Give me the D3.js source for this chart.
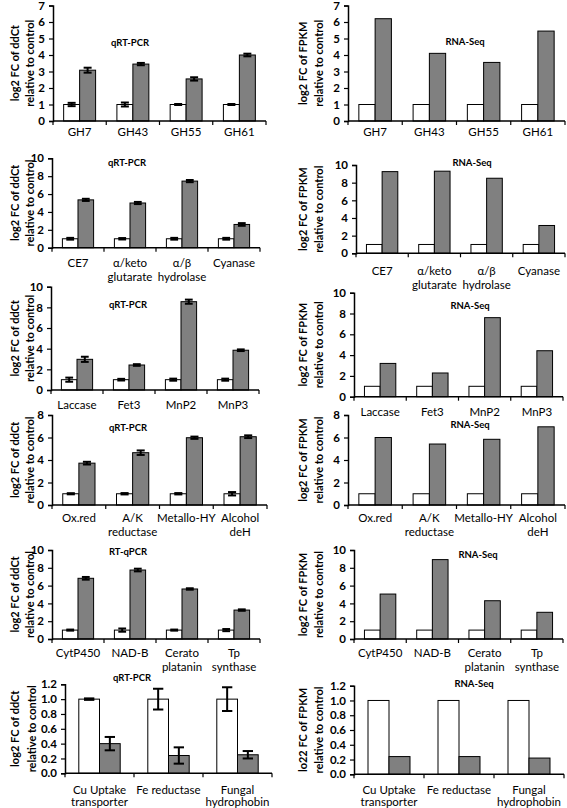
<!DOCTYPE html>
<html><head><meta charset="utf-8">
<script src="https://cdn.jsdelivr.net/npm/d3@7"></script>
<style>
body{margin:0;background:#fff;}
svg{display:block;font-family:Lato,"Liberation Sans",sans-serif;}
</style></head>
<body>
<svg id="chart" width="567" height="808"></svg>
<script>
// ---------- DATA ----------
const cats1 = ["GH7","GH43","GH55","GH61"];
const cats2 = ["CE7","α/keto\nglutarate","α/β\nhydrolase","Cyanase"];
const cats3 = ["Laccase","Fet3","MnP2","MnP3"];
const cats4 = ["Ox.red","A/K\nreductase","Metallo-HY","Alcohol\ndeH"];
const cats5 = ["CytP450","NAD-B","Cerato\nplatanin","Tp\nsynthase"];
const cats6 = ["Cu Uptake\ntransporter","Fe reductase","Fungal\nhydrophobin"];

const control = 1;

// qRT-PCR (treated), errors for treated and control
const qpcr1 = [3.08, 3.45, 2.55, 4.0];
const qpcrErr1 = [0.15, 0.07, 0.1, 0.08];
const ctrlErr1 = [0.1, 0.12, 0.03, 0.03];
const qpcr2 = [5.35, 5.0, 7.45, 2.6];
const qpcrErr2 = [0.12, 0.12, 0.12, 0.15];
const ctrlErr2 = [0.1, 0.08, 0.1, 0.1];
const qpcr3 = [2.97, 2.42, 8.55, 3.85];
const qpcrErr3 = [0.25, 0.08, 0.2, 0.08];
const ctrlErr3 = [0.2, 0.08, 0.1, 0.1];
const qpcr4 = [3.72, 4.65, 5.98, 6.07];
const qpcrErr4 = [0.12, 0.2, 0.1, 0.12];
const ctrlErr4 = [0.05, 0.06, 0.06, 0.15];
const qpcr5 = [6.82, 7.75, 5.62, 3.25];
const qpcrErr5 = [0.15, 0.15, 0.08, 0.08];
const ctrlErr5 = [0.06, 0.18, 0.06, 0.12];
const qpcr6 = [0.4, 0.24, 0.25];
const qpcrErr6 = [0.09, 0.11, 0.05];
const ctrlErr6 = [0.01, 0.14, 0.16];

// RNA-Seq (treated)
const rna1 = [6.2, 4.1, 3.55, 5.45];
const rna2 = [9.25, 9.3, 8.5, 3.15];
const rna3 = [3.2, 2.28, 7.6, 4.42];
const rna4 = [6.0, 5.42, 5.84, 6.95];
const rna5 = [5.05, 8.92, 4.3, 3.0];
const rna6 = [0.24, 0.24, 0.22];

// y-axis domains and tick steps
const yMax = [7, 10, 10, 8, 10, 1.2];
const yStep = [1, 2, 2, 2, 2, 0.2];

const titlesL = ["qRT-PCR","qRT-PCR","qRT-PCR","qRT-PCR","RT-qPCR","qRT-PCR"];
const titlesR = ["RNA-Seq","RNA-Seq","RNA-Seq","RNA-Seq","RNA-Seq","RNA-Seq"];
const yLabL = ["log2 FC of ddCt","relative to control"];
const yLabR = ["log2 FC of  FPKM","relative to control"];
const yLabR6 = ["lo22 FC of FPKM","relative to control"];

// ---------- LAYOUT ----------
const layL = [
  {x0:53, x1:266, yT:5.5,   yB:121,   tx:130, ty:43,  ly:132, lh:14, lx:[15,30]},
  {x0:52, x1:260, yT:158.3, yB:247.7, tx:127, ty:163, ly:263, lh:14, lx:[15,30]},
  {x0:51, x1:259, yT:286.7, yB:390,   tx:128, ty:305, ly:405, lh:14, lx:[15,30]},
  {x0:52, x1:267, yT:415,   yB:505,   tx:128, ty:428, ly:518, lh:14, lx:[15,30]},
  {x0:52, x1:260, yT:550,   yB:639,   tx:128, ty:552, ly:653, lh:14, lx:[15,30]},
  {x0:65, x1:272, yT:684.3, yB:773.3, tx:132, ty:678, ly:790, lh:11.5, lx:[15,32]}
];
const layR = [
  {x0:348, x1:565, yT:5.5,   yB:121,   tx:465, ty:42,  ly:132, lh:14, lx:[303,319]},
  {x0:356, x1:565, yT:165,   yB:253.3, tx:472, ty:163, ly:271, lh:14, lx:[303,319]},
  {x0:354, x1:563, yT:292.7, yB:396.7, tx:470, ty:306, ly:412, lh:14, lx:[303,319]},
  {x0:348, x1:565, yT:415,   yB:505,   tx:470, ty:425, ly:518, lh:14, lx:[303,319]},
  {x0:354, x1:563, yT:550,   yB:639,   tx:478, ty:555, ly:653, lh:14, lx:[303,319]},
  {x0:354, x1:564, yT:685.7, yB:774.3, tx:474, ty:684, ly:790, lh:11.5, lx:[303,319]}
];

const svg = d3.select("#chart");
const GRAY = "#808080";

function drawPanel(L, cats, treated, errT, errC, ymax, step, title, ylab) {
  const g = svg.append("g");
  const x = d3.scaleBand().domain(cats).range([L.x0, L.x1]).paddingInner(0.4).paddingOuter(0.2);
  const sub = d3.scaleBand().domain(["c","t"]).range([0, x.bandwidth()]);
  const y = d3.scaleLinear().domain([0, ymax]).range([L.yB, L.yT]);
  const fmt = step < 1 ? d3.format(".1f") : d3.format("d");
  const ticks = d3.range(0, ymax + step/2, step);

  // bars
  const rows = cats.map((c, i) => ({c, i, ctrl: control, t: treated[i]}));
  g.selectAll(".bc").data(rows).join("rect")
    .attr("x", d => x(d.c) + sub("c")).attr("width", sub.bandwidth())
    .attr("y", d => y(d.ctrl)).attr("height", d => y(0) - y(d.ctrl))
    .attr("fill", "#fff").attr("stroke", "#000").attr("stroke-width", 1);
  g.selectAll(".bt").data(rows).join("rect")
    .attr("x", d => x(d.c) + sub("t")).attr("width", sub.bandwidth())
    .attr("y", d => y(d.t)).attr("height", d => y(0) - y(d.t))
    .attr("fill", GRAY).attr("stroke", "#000").attr("stroke-width", 1);

  // error bars
  if (errT) {
    const cap = sub.bandwidth() * 0.5;
    const eb = [];
    rows.forEach(d => {
      eb.push({cx: x(d.c) + sub("c") + sub.bandwidth()/2, v: d.ctrl, e: errC[d.i]});
      eb.push({cx: x(d.c) + sub("t") + sub.bandwidth()/2, v: d.t, e: errT[d.i]});
    });
    const eg = g.selectAll(".eb").data(eb).join("g");
    eg.append("line").attr("x1", d => d.cx).attr("x2", d => d.cx)
      .attr("y1", d => y(d.v - d.e)).attr("y2", d => y(d.v + d.e))
      .attr("stroke", "#000").attr("stroke-width", 2);
    eg.append("line").attr("x1", d => d.cx - cap/2).attr("x2", d => d.cx + cap/2)
      .attr("y1", d => y(d.v + d.e)).attr("y2", d => y(d.v + d.e))
      .attr("stroke", "#000").attr("stroke-width", 2);
    eg.append("line").attr("x1", d => d.cx - cap/2).attr("x2", d => d.cx + cap/2)
      .attr("y1", d => y(d.v - d.e)).attr("y2", d => y(d.v - d.e))
      .attr("stroke", "#000").attr("stroke-width", 2);
  }

  // y axis
  const ya = g.append("g").attr("transform", `translate(${L.x0},0)`)
    .call(d3.axisLeft(y).tickValues(ticks).tickFormat(fmt).tickSize(4).tickPadding(4));
  ya.select(".domain").attr("stroke", "#000").attr("stroke-width", 1.5);
  ya.selectAll(".tick line").attr("stroke", "#000").attr("stroke-width", 1.2);
  ya.selectAll(".tick text").attr("font-size", 11.5).attr("font-weight", "bold")
    .attr("font-family", "Lato, sans-serif").attr("fill", "#000");

  // x axis line + ticks between categories
  g.append("line").attr("x1", L.x0).attr("x2", L.x1).attr("y1", L.yB).attr("y2", L.yB)
    .attr("stroke", "#000").attr("stroke-width", 1.5);
  const bounds = d3.range(cats.length + 1).map(i => L.x0 + i * (L.x1 - L.x0) / cats.length);
  g.selectAll(".xt").data(bounds).join("line")
    .attr("x1", d => d).attr("x2", d => d).attr("y1", L.yB).attr("y2", L.yB + 4)
    .attr("stroke", "#000").attr("stroke-width", 1.2);

  // category labels
  rows.forEach(d => {
    const lines = d.c.split("\n");
    const t = g.append("text").attr("text-anchor", "middle").attr("font-size", 11.5)
      .attr("fill", "#000");
    lines.forEach((ln, k) => {
      t.append("tspan").attr("x", x(d.c) + x.bandwidth()/2)
        .attr("y", L.ly + k * L.lh).attr("dy", "0.35em").text(ln);
    });
  });

  // title
  g.append("text").attr("x", L.tx).attr("y", L.ty).attr("dy", "0.35em")
    .attr("text-anchor", "middle").attr("font-size", 9.5).attr("font-weight", "bold")
    .text(title);

  // y label
  const yc = (L.yT + L.yB) / 2;
  ylab.forEach((s, k) => {
    g.append("text").attr("transform", `translate(${L.lx[k]},${yc}) rotate(-90)`)
      .attr("text-anchor", "middle").attr("dy", "0.35em")
      .attr("font-size", 11).attr("font-weight", "bold").text(s);
  });
}

const catsAll = [cats1, cats2, cats3, cats4, cats5, cats6];
const qAll = [qpcr1, qpcr2, qpcr3, qpcr4, qpcr5, qpcr6];
const qeAll = [qpcrErr1, qpcrErr2, qpcrErr3, qpcrErr4, qpcrErr5, qpcrErr6];
const ceAll = [ctrlErr1, ctrlErr2, ctrlErr3, ctrlErr4, ctrlErr5, ctrlErr6];
const rAll = [rna1, rna2, rna3, rna4, rna5, rna6];

for (let i = 0; i < 6; i++) {
  drawPanel(layL[i], catsAll[i], qAll[i], qeAll[i], ceAll[i], yMax[i], yStep[i], titlesL[i], yLabL);
  drawPanel(layR[i], catsAll[i], rAll[i], null, null, yMax[i], yStep[i], titlesR[i], i === 5 ? yLabR6 : yLabR);
}
</script>
</body></html>
